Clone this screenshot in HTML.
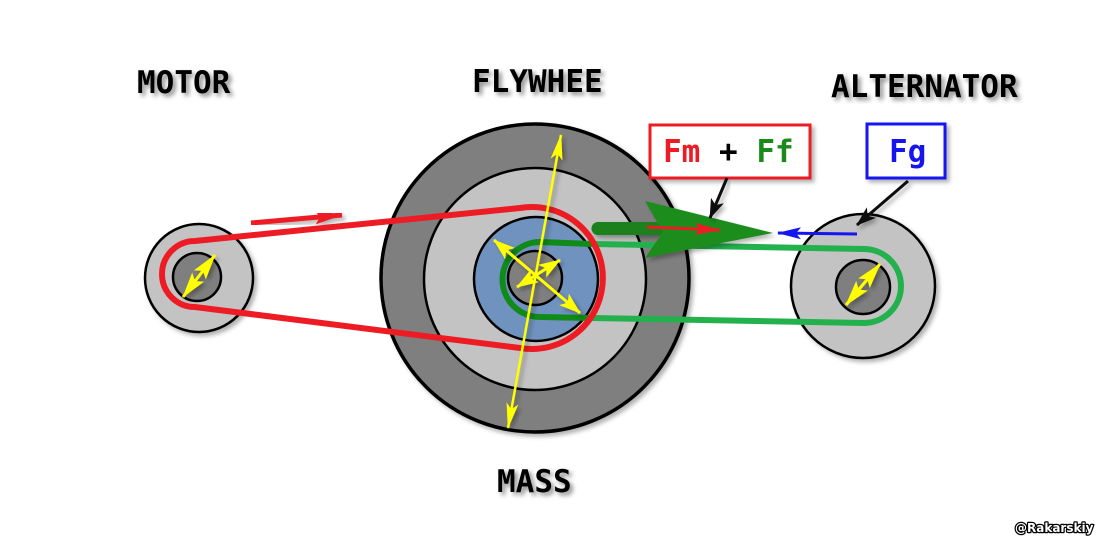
<!DOCTYPE html>
<html>
<head>
<meta charset="utf-8">
<style>
  html,body{margin:0;padding:0;background:#fff;}
  svg{display:block;}
</style>
</head>
<body>
<svg width="1104" height="545" viewBox="0 0 1104 545" xmlns="http://www.w3.org/2000/svg">
  <defs>
    <filter id="sh" x="-20%" y="-20%" width="140%" height="140%">
      <feDropShadow dx="3" dy="3" stdDeviation="2" flood-color="#000" flood-opacity="0.3"/>
    </filter>
    <filter id="tsh" x="-20%" y="-40%" width="140%" height="180%">
      <feDropShadow dx="3" dy="3" stdDeviation="2.5" flood-color="#000" flood-opacity="0.45"/>
    </filter>
    <marker id="yhBig" viewBox="0 0 26 12" refX="25" refY="6" markerWidth="26" markerHeight="12" orient="auto-start-reverse" markerUnits="userSpaceOnUse">
      <path d="M0,0 L26,6 L0,12 L6,6 Z" fill="#ffff00"/>
    </marker>
    <marker id="yhMid" viewBox="0 0 22 15" refX="21" refY="7.5" markerWidth="22" markerHeight="15" orient="auto-start-reverse" markerUnits="userSpaceOnUse">
      <path d="M0,0 L22,7.5 L0,15 L5,7.5 Z" fill="#ffff00"/>
    </marker>
    <marker id="yhSm" viewBox="0 0 26 15" refX="25" refY="7.5" markerWidth="26" markerHeight="15" orient="auto-start-reverse" markerUnits="userSpaceOnUse">
      <path d="M0,0 L26,7.5 L0,15 L5,7.5 Z" fill="#ffff00"/>
    </marker>
    <marker id="kh" viewBox="0 0 20 14" refX="19" refY="7" markerWidth="20" markerHeight="14" orient="auto" markerUnits="userSpaceOnUse">
      <path d="M0,0 L20,7 L0,14 L5,7 Z" fill="#111"/>
    </marker>
    <marker id="rh" viewBox="0 0 26 12" refX="25" refY="6" markerWidth="26" markerHeight="12" orient="auto" markerUnits="userSpaceOnUse">
      <path d="M0,0 L26,6 L0,12 L5,6 Z" fill="#ed1c24"/>
    </marker>
    <marker id="rhBig" viewBox="0 0 28 14" refX="27" refY="7" markerWidth="28" markerHeight="14" orient="auto" markerUnits="userSpaceOnUse">
      <path d="M0,0 L28,7 L0,14 L5,7 Z" fill="#ed1c24"/>
    </marker>
    <marker id="bh" viewBox="0 0 24 12" refX="23" refY="6" markerWidth="24" markerHeight="12" orient="auto" markerUnits="userSpaceOnUse">
      <path d="M0,0 L24,6 L0,12 L5,6 Z" fill="#1515f0"/>
    </marker>
  </defs>

  <!-- Labels -->
  <g font-family="'DejaVu Sans Mono','Liberation Mono',monospace" font-weight="bold" font-size="31" fill="#000" filter="url(#tsh)">
    <text x="137" y="93">MOTOR</text>
    <text x="472" y="92">FLYWHEE</text>
    <text x="831" y="97">ALTERNATOR</text>
    <text x="497" y="492">MASS</text>
  </g>

  <!-- Motor -->
  <g filter="url(#sh)">
    <circle cx="199" cy="278" r="54" fill="#c3c3c3" stroke="#000" stroke-width="2.5"/>
    <circle cx="197" cy="277" r="24" fill="#7f7f7f" stroke="#000" stroke-width="2.5"/>
  </g>

  <!-- Alternator -->
  <g filter="url(#sh)">
    <circle cx="863" cy="286" r="72" fill="#c3c3c3" stroke="#000" stroke-width="2.5"/>
    <circle cx="863" cy="287" r="27" fill="#7f7f7f" stroke="#000" stroke-width="2.5"/>
  </g>

  <!-- Flywheel -->
  <g filter="url(#sh)">
    <circle cx="535" cy="278" r="154" fill="#7f7f7f" stroke="#000" stroke-width="3.5"/>
  </g>
  <circle cx="535" cy="279" r="111" fill="#c3c3c3" stroke="#000" stroke-width="2.5"/>
  <circle cx="536" cy="279" r="62" fill="#7092be" stroke="#000" stroke-width="2.5"/>
  <circle cx="535" cy="278" r="27" fill="#7f7f7f" stroke="#000" stroke-width="2.5"/>

  <!-- Green belt -->
  <path d="M 592,244 L 540,242 A 37,37 0 0 0 540,317 L 592,318" fill="none" stroke="#108a18" stroke-width="6"/>
  <path d="M 592,244 L 864,249 A 37,37 0 0 1 864,323 L 592,318" fill="none" stroke="#22b14c" stroke-width="6" stroke-linejoin="round"/>

  <!-- Red belt -->
  <path d="M 195,241 L 520,208 A 71,71 0 1 1 520,348 L 195,307 A 33,33 0 0 1 195,241 Z" fill="none" stroke="#ed1c24" stroke-width="6" stroke-linejoin="round"/>

  <!-- Top red arrow -->
  <line x1="251" y1="223" x2="342" y2="215" stroke="#ed1c24" stroke-width="5" marker-end="url(#rhBig)" filter="url(#sh)"/>

  <!-- Big green arrow -->
  <g filter="url(#sh)">
    <path d="M 598,222 L 690,222 L 690,235 L 598,235 A 6.5,6.5 0 0 1 598,222 Z" fill="#1a801a"/>
    <polygon points="645,201 773,233 645,258 663,232" fill="#1f8c1f"/>
  </g>
  <!-- red force arrow -->
  <line x1="647" y1="227" x2="720" y2="230" stroke="#ed1c24" stroke-width="3" marker-end="url(#rh)"/>
  <!-- blue force arrow -->
  <line x1="857" y1="234" x2="778" y2="233" stroke="#1515f0" stroke-width="3" marker-end="url(#bh)"/>

  <!-- Yellow arrows -->
  <g filter="url(#sh)">
    <line x1="561" y1="135" x2="508" y2="428" stroke="#ffff00" stroke-width="2.5" marker-start="url(#yhBig)" marker-end="url(#yhBig)"/>
    <line x1="494" y1="240" x2="580" y2="313" stroke="#ffff00" stroke-width="3" marker-start="url(#yhMid)" marker-end="url(#yhMid)"/>
    <line x1="517" y1="287" x2="560" y2="260" stroke="#ffff00" stroke-width="3" marker-start="url(#yhMid)" marker-end="url(#yhMid)"/>
    <line x1="183" y1="297" x2="215" y2="255" stroke="#ffff00" stroke-width="3" marker-start="url(#yhSm)" marker-end="url(#yhSm)"/>
    <line x1="846" y1="305" x2="880" y2="264" stroke="#ffff00" stroke-width="3" marker-start="url(#yhSm)" marker-end="url(#yhSm)"/>
  </g>

  <!-- Boxes -->
  <rect x="650" y="125" width="160" height="53" fill="#fff" stroke="#ed1c24" stroke-width="3" filter="url(#sh)"/>
  <text x="663" y="162" font-family="'DejaVu Sans Mono','Liberation Mono',monospace" font-weight="bold" font-size="31"><tspan fill="#ed1c24">Fm</tspan><tspan fill="#000"> + </tspan><tspan fill="#1a8a1a">Ff</tspan></text>

  <rect x="867" y="124" width="78" height="54" fill="#fff" stroke="#1515f0" stroke-width="3" filter="url(#sh)"/>
  <text x="889" y="162" font-family="'DejaVu Sans Mono','Liberation Mono',monospace" font-weight="bold" font-size="31" fill="#1515f0">Fg</text>

  <!-- Black pointers -->
  <line x1="727" y1="178" x2="710" y2="218" stroke="#111" stroke-width="3" marker-end="url(#kh)" filter="url(#sh)"/>
  <line x1="908" y1="181" x2="857" y2="225" stroke="#111" stroke-width="3" marker-end="url(#kh)" filter="url(#sh)"/>

  <!-- Watermark -->
  <text x="1015" y="532" font-family="'DejaVu Sans','Liberation Sans',sans-serif" font-weight="bold" font-size="12" fill="#fff" stroke="#000" stroke-width="2.5" paint-order="stroke" stroke-linejoin="round">@Rakarskiy</text>
</svg>
</body>
</html>
